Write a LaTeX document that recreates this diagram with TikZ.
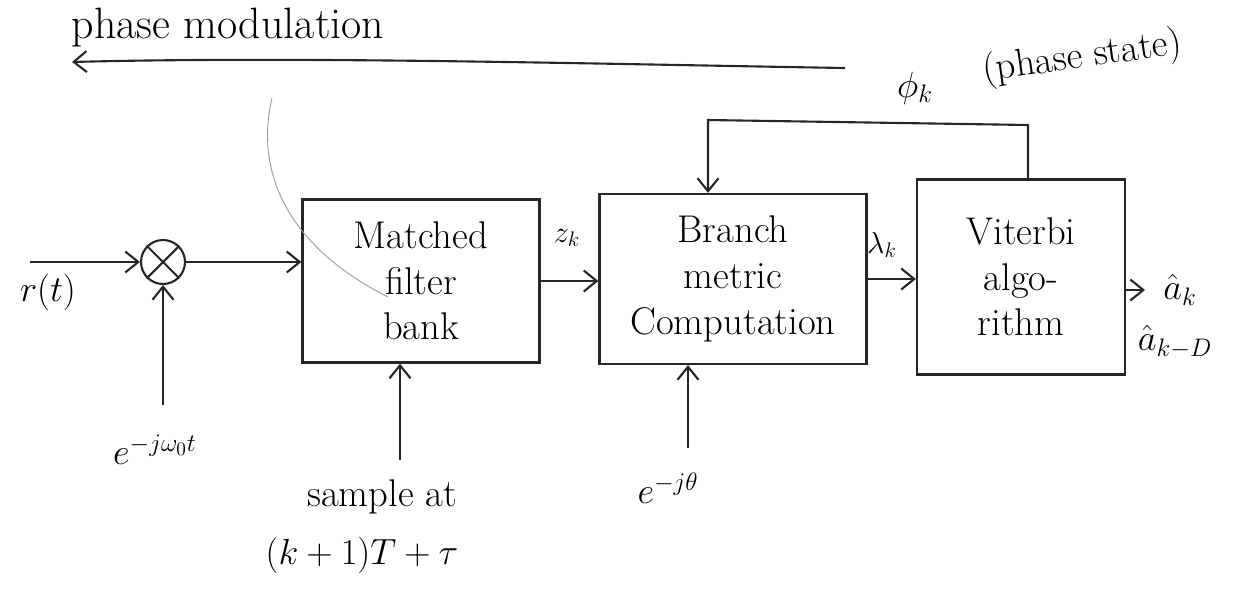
\documentclass[tikz,border=0pt]{standalone}
\usetikzlibrary{arrows.meta,calc}
\begin{document}
\begin{tikzpicture}[x=0.02cm,y=-0.02cm,
    line width=1.2pt,
    tip/.style={-{Straight Barb[length=2.6mm,width=4.2mm]}},
    blk/.style={draw=black!85, line width=1.3pt, inner sep=0pt, align=center,
        font=\fontsize{22}{26}\selectfont},
    lbl/.style={font=\fontsize{22}{26}\selectfont},
    sml/.style={font=\fontsize{17}{20}\selectfont}]
        \useasboundingbox (0,0) rectangle (1233,609);

        % Bloques
        \node[blk, minimum width=4.74cm, minimum height=3.26cm] (mf) at (421,281) {Matched\\filter\\bank};
        \node[blk, minimum width=5.34cm, minimum height=3.4cm] (bmc) at (733,279) {Branch\\metric\\Computation};
        \node[blk, minimum width=4.16cm, minimum height=3.9cm] (vit) at (1021,277) {Viterbi\\algo-\\rithm};

        % Mezclador
        \node[draw=black!85, circle, minimum size=0.88cm, inner sep=0pt] (mix) at (163,262) {};
        \draw[black!85] (mix.45) -- (mix.225) (mix.135) -- (mix.315);

        % Puntos libres
        \coordinate (rin) at (30,262);
        \coordinate (ein) at (163,405);
        \coordinate (smp) at (400,460);
        \coordinate (thq) at (688,448);
        \coordinate (aout) at (1145,290);
        \coordinate (fbr) at (1028,125);
        \coordinate (fbl) at (708,120);
        \coordinate (pmr) at (845,68);
        \coordinate (pml) at (72,62);

        % Conexiones
        \draw[tip, black!85] (rin) -- (mix);
        \draw[tip, black!85] (ein) -- (mix);
        \draw[tip, black!85] (mix) -- (mix -| mf.west);
        \draw[tip, black!85] (mf.east) -- (mf.east -| bmc.west);
        \draw[tip, black!85] (bmc.east) -- (bmc.east -| vit.west);
        \draw[tip, black!85] (aout -| vit.east) -- (aout);
        \draw[tip, black!85] (fbr |- vit.north) -- (fbr) -- (fbl) -- (fbl |- bmc.north);
        \draw[tip, black!85] (smp) -- (smp |- mf.south);
        \draw[tip, black!85] (thq) -- (thq |- bmc.south);
        \draw[tip, black!85] (pmr) .. controls (600,64) and (300,56) .. (pml);
        \draw[black!40, line width=0.5pt] (272,98) .. controls (255,170) and (285,245) .. (388,297);

        % Textos
        \node[font=\fontsize{25}{30}\selectfont] (ttl) at (228,28) {phase modulation};
        \node[lbl] (rlb) at (48,292) {$r(t)$};
        \node[lbl] (elb) at (155,450) {$e^{-j\omega_0 t}$};
        \node[sml] (zlb) at (567,238) {$z_k$};
        \node[sml] (llb) at (882,245) {$\lambda_k$};
        \node[lbl] (slb) at (382,497) {sample at};
        \node[lbl] (tlb) at (362,555) {$(k+1)T+\tau$};
        \node[lbl] (qlb) at (668,488) {$e^{-j\theta}$};
        \node[lbl] (alb) at (1180,290) {$\hat{a}_k$};
        \node[lbl] (dlb) at (1175,342) {$\hat{a}_{k-D}$};
        \node[lbl] (plb) at (915,88) {$\phi_k$};
        \node[lbl, rotate=8] (slt) at (1082,58) {(phase state)};

    \end{tikzpicture}
\end{document}
